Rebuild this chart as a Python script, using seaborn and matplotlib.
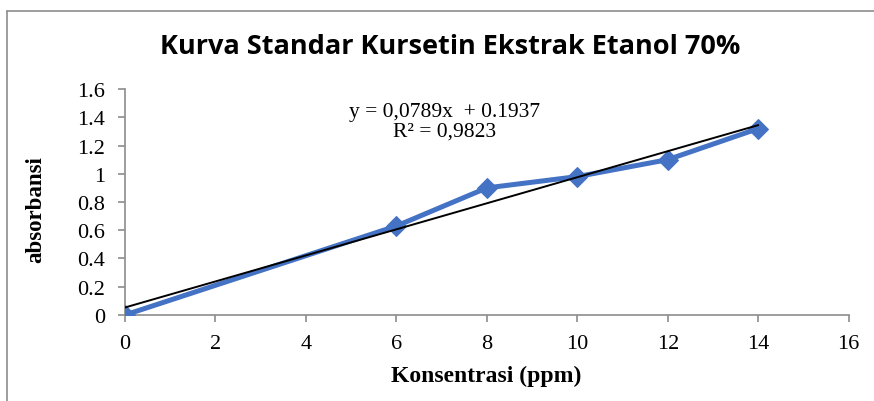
import numpy as np
import pandas as pd
import seaborn as sns
import matplotlib
matplotlib.use("Agg")
import matplotlib.pyplot as plt
from matplotlib.lines import Line2D

# data
konsentrasi = [0, 6, 8, 10, 12, 14]
absorbansi = [0.0, 0.63, 0.90, 0.98, 1.10, 1.32]
x_ticks = [0, 2, 4, 6, 8, 10, 12, 14, 16]
y_ticks = [0, 0.2, 0.4, 0.6, 0.8, 1, 1.2, 1.4, 1.6]
y_labels = ["0", "0.2", "0.4", "0.6", "0.8", "1", "1.2", "1.4", "1.6"]

df = pd.DataFrame({"x": konsentrasi, "y": absorbansi})

sns.set_theme(style="white")
plt.rcParams["font.family"] = ["Liberation Serif", "DejaVu Serif"]
plt.rcParams["text.color"] = "black"
plt.rcParams["axes.labelcolor"] = "black"

fig, ax = plt.subplots(figsize=(8.74, 4.02), dpi=100)
fig.subplots_adjust(left=0.143, right=0.971, bottom=0.214, top=0.776)

# outer frame (top and left edge like the screenshot)
fig.add_artist(Line2D([7 / 874, 7 / 874], [0, 1 - 12 / 402], transform=fig.transFigure,
                      color="#8c8c8c", lw=1.2))
fig.add_artist(Line2D([7 / 874, 1], [1 - 12 / 402, 1 - 12 / 402], transform=fig.transFigure,
                      color="#8c8c8c", lw=1.2))

sns.lineplot(data=df, x="x", y="y", ax=ax, color="#4472C4", lw=3.6,
             marker="D", markersize=10, markeredgecolor="#4472C4", zorder=3)

# linear trend line
sns.regplot(data=df, x="x", y="y", ax=ax, scatter=False, ci=None, truncate=True,
            line_kws=dict(color="black", lw=1.4, zorder=4))

ax.set_xlim(0, 16)
ax.set_ylim(0, 1.6)
ax.set_xticks(x_ticks)
ax.set_yticks(y_ticks)
ax.set_yticklabels(y_labels)
ax.tick_params(axis="both", which="major", labelsize=16, length=5, width=1.2,
               color="#8c8c8c", labelcolor="black", direction="out", bottom=True, left=True)
ax.xaxis.set_tick_params(pad=8.5)
ax.yaxis.set_tick_params(pad=9.5)

for s in ["top", "right"]:
    ax.spines[s].set_visible(False)
for s in ["left", "bottom"]:
    ax.spines[s].set_color("#8c8c8c")
    ax.spines[s].set_linewidth(1.2)

ax.set_xlabel("Konsentrasi (ppm)", fontsize=17, fontweight="bold")
ax.set_ylabel("absorbansi", fontsize=16.5, fontweight="bold")
ax.xaxis.set_label_coords(0.4986, -0.221)
ax.yaxis.set_label_coords(-0.109, 0.469)

ax.text(7.07, 1.44, "y = 0,0789x  + 0.1937", ha="center", va="center", fontsize=15.5)
ax.text(7.07, 1.30, "R² = 0,9823", ha="center", va="center", fontsize=15.5)

fig.text(0.515, 0.883, "Kurva Standar Kursetin Ekstrak Etanol 70%", ha="center", va="center",
         fontsize=19.5, fontweight="bold", family=["Open Sans", "DejaVu Sans"])

fig.savefig("out.png", dpi=100)
